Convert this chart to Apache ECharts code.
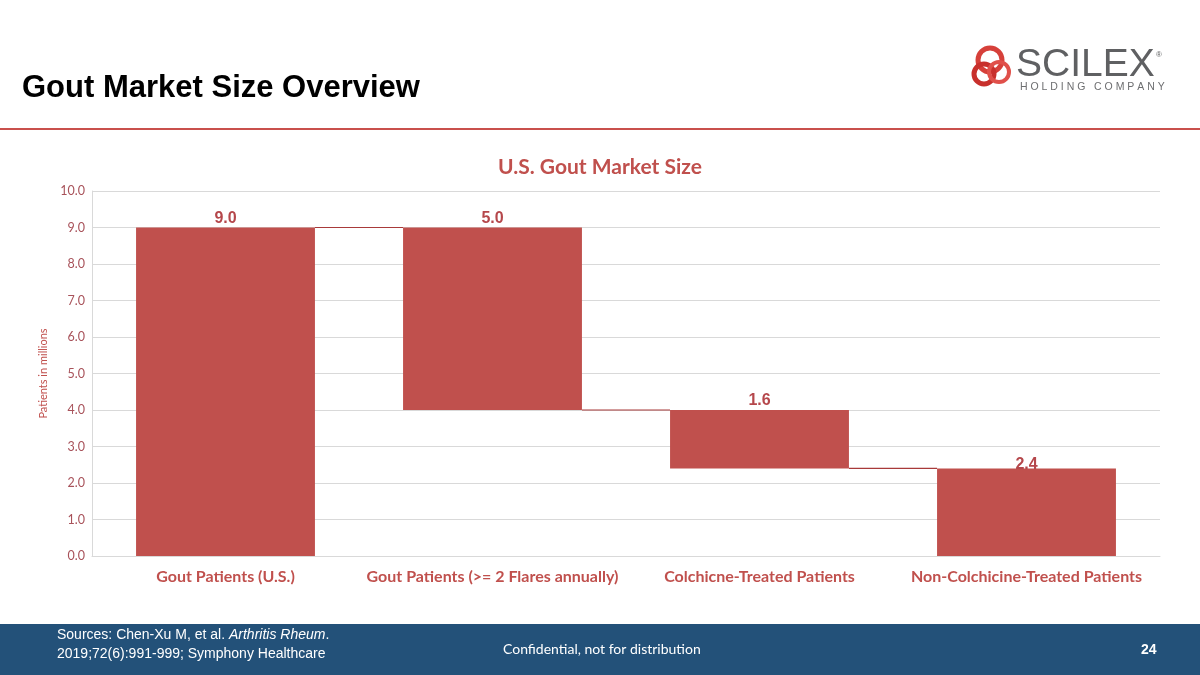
<!DOCTYPE html>
<html>
<head>
<meta charset="utf-8">
<script src="https://cdn.jsdelivr.net/npm/echarts@6/dist/echarts.min.js"></script>
<style>
html,body{margin:0;padding:0;background:#fff;}
#chart{width:1200px;height:675px;}
</style>
</head>
<body>
<div id="chart"></div>
<script>
const categories = ['Gout Patients (U.S.)', 'Gout Patients (>= 2 Flares annually)', 'Colchicne-Treated Patients', 'Non-Colchicine-Treated Patients'];
const barBottoms = [0, 4.0, 2.4, 0];
const barValues = [9.0, 5.0, 1.6, 2.4];
const connectorLevels = [9.0, 4.0, 2.4];
const yTicks = [0, 10, 1];

const RED = '#c0504d';
const chart = echarts.init(document.getElementById('chart'));

const connectorData = connectorLevels.map((v, i) => [i, v]);

chart.setOption({
  animation: false,
  title: {
    text: 'U.S. Gout Market Size',
    left: 'center', top: 152,
    textStyle: { fontFamily: 'Lato', fontWeight: 'bold', fontSize: 21, color: RED }
  },
  grid: { left: 92, right: 40, top: 191, bottom: 119, containLabel: false },
  xAxis: {
    type: 'category',
    data: categories,
    axisLine: { lineStyle: { color: '#d9d9d9', width: 1 } },
    axisTick: { show: false },
    axisLabel: { interval: 0, color: RED, fontFamily: 'Lato', fontWeight: 'bold', fontSize: 16, margin: 13 }
  },
  yAxis: {
    type: 'value',
    min: yTicks[0], max: yTicks[1], interval: yTicks[2],
    name: 'Patients in millions',
    nameLocation: 'middle', nameGap: 42,
    nameTextStyle: { color: RED, fontFamily: 'Lato', fontSize: 11 },
    axisLine: { show: true, lineStyle: { color: '#d9d9d9' } },
    axisTick: { show: false },
    splitLine: { lineStyle: { color: '#d9d9d9' } },
    axisLabel: { color: '#a8525a', fontFamily: 'Lato', fontSize: 12.5, margin: 7, formatter: v => v.toFixed(1) }
  },
  series: [
    {
      type: 'bar', stack: 'wf', barWidth: '67%',
      itemStyle: { color: 'transparent' },
      emphasis: { disabled: true },
      data: barBottoms
    },
    {
      type: 'bar', stack: 'wf', barWidth: '67%',
      itemStyle: { color: RED },
      label: {
        show: true, position: 'top', distance: 1,
        color: '#b5474b', fontFamily: 'Liberation Sans', fontWeight: 'bold', fontSize: 16,
        formatter: p => p.value.toFixed(1)
      },
      data: barValues.map((v, i) => i === barValues.length - 1 ? { value: v, label: { distance: -4 } } : v)
    },
    {
      type: 'custom',
      z: 5,
      data: connectorData,
      renderItem: function (params, api) {
        const idx = api.value(0);
        const lvl = api.value(1);
        const band = api.size([1, 0])[0];
        const half = band * 0.67 / 2;
        const p1 = api.coord([idx, lvl]);
        const p2 = api.coord([idx + 1, lvl]);
        return {
          type: 'line',
          shape: { x1: p1[0] + half, y1: p1[1], x2: p2[0] - half, y2: p2[1] },
          style: { stroke: '#a83a3a', lineWidth: 1.2 }
        };
      }
    }
  ],
  graphic: [
    { type: 'text', left: 22, top: 73, style: { text: 'Gout Market Size Overview', fontFamily: 'Liberation Sans', fontWeight: 'bold', fontSize: 31, fill: '#000' } },
    { type: 'rect', shape: { x: 0, y: 128, width: 1200, height: 2 }, style: { fill: '#c9504c' } },
    // logo
    { type: 'circle', shape: { cx: 990, cy: 60, r: 12 }, style: { fill: 'none', stroke: '#d6403a', lineWidth: 5 } },
    { type: 'circle', shape: { cx: 984, cy: 74, r: 10 }, style: { fill: 'none', stroke: '#c8302c', lineWidth: 5 } },
    { type: 'circle', shape: { cx: 999, cy: 72, r: 10 }, style: { fill: 'none', stroke: '#e0504a', lineWidth: 4 } },
    { type: 'text', left: 1016, top: 46, style: { text: 'SCILEX', fontFamily: 'Liberation Sans', fontSize: 39, fill: '#5f6062' } },
    { type: 'text', left: 1156, top: 51, style: { text: '®', fontFamily: 'Liberation Sans', fontSize: 8, fill: '#5f6062' } },
    { type: 'text', left: 1020, top: 82, style: { text: 'H O L D I N G   C O M P A N Y', fontFamily: 'Liberation Sans', fontSize: 10.5, fill: '#6d6e70' } },
    // footer
    { type: 'rect', shape: { x: 0, y: 624, width: 1200, height: 51 }, style: { fill: '#235179' } },
    { type: 'text', left: 57, top: 628, style: { rich: { n: { fontFamily: 'Liberation Sans', fontSize: 14, fill: '#fff', lineHeight: 19 }, i: { fontFamily: 'Liberation Sans', fontStyle: 'italic', fontSize: 14, fill: '#fff', lineHeight: 19 } }, text: '{n|Sources: Chen-Xu M, et al. }{i|Arthritis Rheum}{n|.}\n{n|2019;72(6):991-999; Symphony Healthcare}' } },
    { type: 'text', left: 503, top: 642, style: { text: 'Confidential, not for distribution', fontFamily: 'Lato', fontSize: 14, fill: '#fff' } },
    { type: 'text', left: 1141, top: 643, style: { text: '24', fontFamily: 'Liberation Sans', fontWeight: 'bold', fontSize: 14, fill: '#fff' } }
  ]
});
</script>
</body>
</html>
